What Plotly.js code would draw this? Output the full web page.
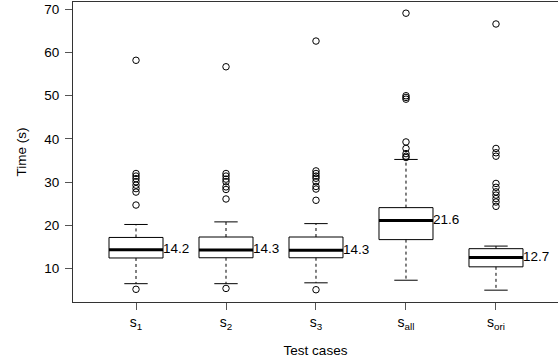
<!DOCTYPE html>
<html>
<head>
<meta charset="utf-8">
<script src="https://cdn.plot.ly/plotly-3.0.1.min.js"></script>
<style>html,body{margin:0;padding:0;background:#fff;}#chart{width:558px;height:364px;}</style>
</head>
<body>
<div id="chart"></div>
<script>
// ---- data ----
const categories = ["s1", "s2", "s3", "sall", "sori"];
const tickLabels = ["s<sub>1</sub>", "s<sub>2</sub>", "s<sub>3</sub>", "s<sub>all</sub>", "s<sub>ori</sub>"];
const lowerWhisker = [6.5, 6.5, 6.7, 7.3, 5.0];
const q1Values = [12.45, 12.5, 12.5, 16.7, 10.4];
const medianValues = [14.35, 14.3, 14.25, 21.1, 12.55];
const q3Values = [17.2, 17.3, 17.3, 24.1, 14.6];
const upperWhisker = [20.2, 20.8, 20.4, 35.25, 15.2];
const medianLabels = ["14.2", "14.3", "14.3", "21.6", "12.7"];
const outliersS1 = [58.2, 32.0, 31.4, 30.8, 30.1, 29.3, 28.5, 27.7, 24.7, 5.2];
const outliersS2 = [56.7, 32.0, 31.4, 30.7, 30.1, 28.9, 28.3, 26.1, 5.4];
const outliersS3 = [62.65, 32.6, 32.0, 31.4, 30.9, 30.1, 29.0, 28.4, 25.8, 5.1];
const outliersSall = [69.1, 50.0, 49.6, 49.2, 39.3, 37.8, 36.6, 36.0, 35.7];
const outliersSori = [66.6, 37.8, 36.8, 36.0, 29.7, 28.8, 27.75, 27.0, 26.2, 25.4, 24.4];

// ---- build traces ----
const outlierSets = [outliersS1, outliersS2, outliersS3, outliersSall, outliersSori];
const pos = categories.map((c, i) => i + 1);
const halfBox = 0.3, halfCap = 0.13;
const font = "Liberation Sans, Arial, sans-serif";

const boxTrace = {
  type: "box", x: pos, q1: q1Values, median: medianValues, q3: q3Values,
  lowerfence: q1Values, upperfence: q3Values,
  width: 2 * halfBox, whiskerwidth: 0, boxpoints: false,
  line: {color: "#000", width: 1}, fillcolor: "#fff",
  hoverinfo: "skip", showlegend: false
};

const wx = [], wy = [];
pos.forEach((p, i) => {
  wx.push(p, p, null, p, p, null);
  wy.push(q3Values[i], upperWhisker[i], null, q1Values[i], lowerWhisker[i], null);
});
const whiskerTrace = {type: "scatter", mode: "lines", x: wx, y: wy,
  line: {color: "#000", width: 1, dash: "3px,3px"}, hoverinfo: "skip", showlegend: false};

const cx = [], cy = [];
pos.forEach((p, i) => {
  cx.push(p - halfCap, p + halfCap, null, p - halfCap, p + halfCap, null);
  cy.push(upperWhisker[i], upperWhisker[i], null, lowerWhisker[i], lowerWhisker[i], null);
});
const capTrace = {type: "scatter", mode: "lines", x: cx, y: cy,
  line: {color: "#000", width: 1}, hoverinfo: "skip", showlegend: false};

const mx = [], my = [];
pos.forEach((p, i) => {
  mx.push(p - halfBox, p + halfBox, null);
  my.push(medianValues[i], medianValues[i], null);
});
const medianTrace = {type: "scatter", mode: "lines", x: mx, y: my,
  line: {color: "#000", width: 3}, hoverinfo: "skip", showlegend: false};

const ox = [], oy = [];
outlierSets.forEach((set, i) => set.forEach(v => { ox.push(pos[i]); oy.push(v); }));
const outlierTrace = {type: "scatter", mode: "markers", x: ox, y: oy,
  marker: {symbol: "circle-open", size: 6.5, color: "#000", line: {width: 1, color: "#000"}},
  hoverinfo: "skip", showlegend: false};

const labelTrace = {type: "scatter", mode: "text",
  x: pos.map(p => p + halfBox), y: medianValues, text: medianLabels,
  textposition: "middle right", textfont: {family: font, size: 13.5, color: "#000"},
  hoverinfo: "skip", showlegend: false, cliponaxis: false};

const layout = {
  width: 558, height: 364,
  margin: {l: 73, r: 0, t: 2, b: 62},
  paper_bgcolor: "#fff", plot_bgcolor: "#fff",
  font: {family: font, size: 13.5, color: "#000"},
  showlegend: false,
  xaxis: {
    range: [0.3, 5.689], tickvals: pos, ticktext: tickLabels,
    showgrid: false, zeroline: false, showline: true, mirror: true,
    linecolor: "#333", linewidth: 1,
    ticks: "outside", ticklen: 7, tickcolor: "#555", tickwidth: 1,
    tickfont: {family: font, size: 14, color: "#000"},
    title: {text: "Test cases", font: {family: font, size: 13.5, color: "#000"}, standoff: 14}
  },
  yaxis: {
    range: [2.26, 71.69], tickvals: [10, 20, 30, 40, 50, 60, 70],
    showgrid: false, zeroline: false, showline: true, mirror: true,
    linecolor: "#333", linewidth: 1,
    ticks: "outside", ticklen: 7, tickcolor: "#555", tickwidth: 1,
    ticklabelstandoff: 3,
    tickfont: {family: font, size: 13.5, color: "#000"},
    title: {text: "Time (s)", font: {family: font, size: 13.5, color: "#000"}, standoff: 14}
  }
};

Plotly.newPlot("chart", [boxTrace, whiskerTrace, capTrace, medianTrace, outlierTrace, labelTrace], layout,
  {staticPlot: true, displayModeBar: false});
</script>
</body>
</html>
